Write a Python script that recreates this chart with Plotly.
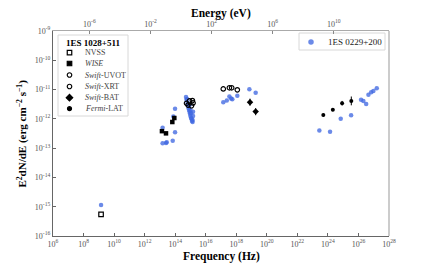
import numpy as np
import plotly.graph_objects as go

# ---------------- data (1ES 1028+511) ----------------
nvss_nu = [1.4e9]
nvss_f = [5.5e-16]

wise_nu = [1.36e13, 2.5e13, 6.5e13, 8.8e13]
wise_f = [3.8e-13, 3.2e-13, 7.8e-13, 1.07e-12]

uvot_nu = [5.55e14, 6.93e14, 8.66e14, 1.16e15, 1.34e15, 1.48e15]
uvot_f = [3.4e-12, 2.95e-12, 4.1e-12, 2.8e-12, 4.2e-12, 3.5e-12]

xrt_nu = [1.41e17, 3.55e17, 5.0e17, 1.17e18]
xrt_f = [1.05e-11, 1.15e-11, 1.15e-11, 9.8e-12]

bat_nu = [7.9e18, 1.86e19]
bat_f = [3.7e-12, 1.78e-12]
bat_err_hi = [1.2e-12, 0.55e-12]
bat_err_lo = [0.9e-12, 0.45e-12]

fermi_nu = [5.0e23, 2.1e24, 8.5e24, 3.4e25]
fermi_f = [1.35e-12, 2.05e-12, 3.4e-12, 4.1e-12]
fermi_err_hi = [0.15e-12, 0.25e-12, 0.7e-12, 1.7e-12]
fermi_err_lo = [0.15e-12, 0.22e-12, 0.55e-12, 1.2e-12]

# ---------------- data (1ES 0229+200) ----------------
blue_nu = [1.4e9,
           1.5e13, 7.6e13, 9.8e13, 1.5e13, 2.5e13, 2.8e13, 6.9e13, 9.8e13,
           5.1e14, 5.5e14, 6.0e14, 6.5e14, 6.9e14, 7.4e14, 8.1e14, 8.7e14,
           9.3e14, 1.0e15, 1.1e15, 1.17e15, 1.26e15, 1.38e15, 1.38e15, 1.1e15,
           1.0e15, 8.1e14, 9.3e14, 1.48e15, 1.48e15,
           1.41e17, 2.4e17, 3.55e17, 4.6e17, 5.5e17, 1.17e18, 7.2e18, 1.86e19,
           2.75e23, 1.38e24, 6.9e24, 3.3e25, 1.48e26, 2.1e26, 3.2e26, 4.5e26,
           6.8e26, 9.5e26, 1.58e27]
blue_f = [1.15e-15,
          5.0e-13, 1.2e-12, 2.2e-12, 1.48e-13, 1.5e-13, 1.6e-13, 1.8e-13, 3.5e-13,
          5.6e-12, 4.5e-12, 4.8e-12, 3.5e-12, 2.95e-12, 2.35e-12, 2.0e-12, 1.74e-12,
          1.48e-12, 1.26e-12, 1.07e-12, 1.0e-12, 8.5e-13, 7.8e-13, 9.1e-13, 1.58e-12,
          2.0e-12, 2.75e-12, 3.2e-12, 1.74e-12, 1.26e-12,
          3.7e-12, 4.2e-12, 5.75e-12, 5.0e-12, 4.7e-12, 6.2e-12, 1.02e-11, 7.8e-12,
          4.0e-13, 3.6e-13, 1.0e-12, 1.32e-12, 4.5e-12, 4.1e-12, 3.2e-12, 6.6e-12,
          8.1e-12, 8.9e-12, 1.1e-11]

# ---------------- axes ticks ----------------
x_exps = list(range(6, 29, 2))
y_exps = list(range(-16, -8))
e_exps = [-6, -2, 2, 6, 10]
HZ_PER_EV = 2.418e14
X_RANGE = [6, 28]
Y_RANGE = [-16, -9]

legend_items = ["NVSS", "<i>WISE</i>", "<i>Swift</i>-UVOT", "<i>Swift</i>-XRT",
                "<i>Swift</i>-BAT", "<i>Fermi</i>-LAT"]

BLUE = "rgba(65,105,225,0.78)"
FONT = "Liberation Serif"
TICKC = "#555"

fig = go.Figure()

fig.add_trace(go.Scatter(x=blue_nu, y=blue_f, mode="markers",
                         marker=dict(color=BLUE, size=4.5, line=dict(width=0)),
                         showlegend=False))

fig.add_trace(go.Scatter(x=nvss_nu, y=nvss_f, mode="markers",
                         marker=dict(symbol="square-open", color="black", size=4.5,
                                     line=dict(width=1.2)), showlegend=False))
fig.add_trace(go.Scatter(x=wise_nu, y=wise_f, mode="markers",
                         marker=dict(symbol="square", color="black", size=4.5),
                         showlegend=False))
fig.add_trace(go.Scatter(x=uvot_nu, y=uvot_f, mode="markers",
                         marker=dict(symbol="circle-open", color="black", size=4.5,
                                     line=dict(width=1.2)), showlegend=False))
fig.add_trace(go.Scatter(x=xrt_nu, y=xrt_f, mode="markers",
                         marker=dict(symbol="circle-open", color="black", size=4.5,
                                     line=dict(width=1.2)), showlegend=False))
fig.add_trace(go.Scatter(x=bat_nu, y=bat_f, mode="markers",
                         error_y=dict(type="data", symmetric=False, array=bat_err_hi,
                                      arrayminus=bat_err_lo, color="black",
                                      thickness=1, width=0),
                         marker=dict(symbol="diamond", color="black", size=5),
                         showlegend=False))
fig.add_trace(go.Scatter(x=fermi_nu, y=fermi_f, mode="markers",
                         error_y=dict(type="data", symmetric=False, array=fermi_err_hi,
                                      arrayminus=fermi_err_lo, color="black",
                                      thickness=1, width=0),
                         marker=dict(symbol="circle", color="black", size=4),
                         showlegend=False))

# invisible trace to activate top energy axis
e_vals = np.array([10.0 ** X_RANGE[0], 10.0 ** X_RANGE[1]]) / HZ_PER_EV
fig.add_trace(go.Scatter(x=e_vals, y=[1e-12, 1e-12], xaxis="x2", mode="markers",
                         marker=dict(opacity=0), hoverinfo="skip", showlegend=False))

# ---------------- legend keys (pixel-space helper axes) ----------------
leg_y = [52.7, 63.5, 75, 86.5, 97.7, 108.7]
leg_sym = ["square-open", "square", "circle-open", "circle-open", "diamond", "circle"]
leg_size = [4.5, 4.5, 4.5, 4.5, 5, 4]
for yy, sym, sz in zip(leg_y, leg_sym, leg_size):
    fig.add_trace(go.Scatter(x=[69.5], y=[yy], xaxis="x3", yaxis="y3", mode="markers",
                             marker=dict(symbol=sym, color="black", size=sz,
                                         line=dict(width=1.2, color="black")),
                             hoverinfo="skip", showlegend=False))
fig.add_trace(go.Scatter(x=[311], y=[42], xaxis="x3", yaxis="y3", mode="markers",
                         marker=dict(color=BLUE, size=5.5), hoverinfo="skip",
                         showlegend=False))

shapes = [
    dict(type="rect", xref="x3", yref="y3", x0=58, x1=128, y0=35, y1=116,
         line=dict(color="#d8d8d8", width=1), fillcolor="rgba(255,255,255,0.8)",
         layer="below"),
    dict(type="rect", xref="x3", yref="y3", x0=299, x1=385, y0=33, y1=50,
         line=dict(color="#d8d8d8", width=1), fillcolor="rgba(255,255,255,0.8)",
         layer="below"),
    dict(type="line", xref="paper", yref="paper", x0=1, x1=1, y0=0, y1=1,
         line=dict(color="#aaa", width=1.2)),
]

annotations = [
    dict(x=93, y=42.5, xref="x3", yref="y3", text="<b>1ES 1028+511</b>",
         showarrow=False, font=dict(family=FONT, size=9, color="black")),
    dict(x=326, y=42, xref="x3", yref="y3", text="1ES 0229+200", xanchor="left",
         showarrow=False, font=dict(family=FONT, size=9, color="#222")),
]
for yy, txt in zip(leg_y, legend_items):
    annotations.append(dict(x=83, y=yy, xref="x3", yref="y3", text=txt,
                            xanchor="left", showarrow=False,
                            font=dict(family=FONT, size=8, color="#444")))
annotations += [
    dict(x=0.5, y=-0.102, xref="paper", yref="paper", text="<b>Frequency (Hz)</b>",
         yanchor="middle", showarrow=False, font=dict(family=FONT, size=11.5, color="black")),
    dict(x=0.5, y=1.085, xref="paper", yref="paper", text="<b>Energy (eV)</b>",
         yanchor="middle", showarrow=False, font=dict(family=FONT, size=11.5, color="black")),
    dict(x=-0.092, y=0.5, xref="paper", yref="paper", textangle=-90,
         text="<b>E<sup>2</sup>dN/dE (erg cm<sup>−2</sup> s<sup>−1</sup>)</b>",
         xanchor="center", yanchor="middle", showarrow=False,
         font=dict(family=FONT, size=11, color="black")),
]

tickfont = dict(family=FONT, size=8, color=TICKC)

# page body adds an 8px margin: figure is 424x258 so the plot area lands at 53..389 x 31..236
fig.update_layout(
    width=424, height=258,
    margin=dict(l=45, r=43, t=23, b=30, autoexpand=False),
    paper_bgcolor="white", plot_bgcolor="white",
    showlegend=False,
    xaxis=dict(type="log", range=X_RANGE,
               tickvals=[10.0 ** k for k in x_exps],
               ticktext=[f"10<sup>{k}</sup>" for k in x_exps],
               tickfont=tickfont, ticks="inside", ticklen=3, tickcolor="#666",
               showgrid=False, zeroline=False, showline=True, linecolor="#666",
               linewidth=1.2),
    xaxis2=dict(type="log", overlaying="x", side="top",
                range=[X_RANGE[0] - np.log10(HZ_PER_EV), X_RANGE[1] - np.log10(HZ_PER_EV)],
                tickvals=[10.0 ** k for k in e_exps],
                ticktext=[f"10<sup>{k}</sup>" for k in e_exps],
                tickfont=tickfont, ticks="inside", ticklen=3, tickcolor="#888",
                showgrid=False, zeroline=False, showline=True, linecolor="#aaa",
                linewidth=1.2),
    yaxis=dict(type="log", range=Y_RANGE,
               tickvals=[10.0 ** k for k in y_exps],
               ticktext=[f"10<sup>{k}</sup>" for k in y_exps],
               tickfont=tickfont, ticks="inside", ticklen=3, tickcolor="#666",
               showgrid=False, zeroline=False, showline=True, linecolor="#666",
               linewidth=1.2),
    xaxis3=dict(overlaying="x", range=[53, 389], visible=False, anchor="y3"),
    yaxis3=dict(overlaying="y", range=[236, 31], visible=False, anchor="x3"),
    shapes=shapes,
    annotations=annotations,
)

fig.write_html("out.html")
